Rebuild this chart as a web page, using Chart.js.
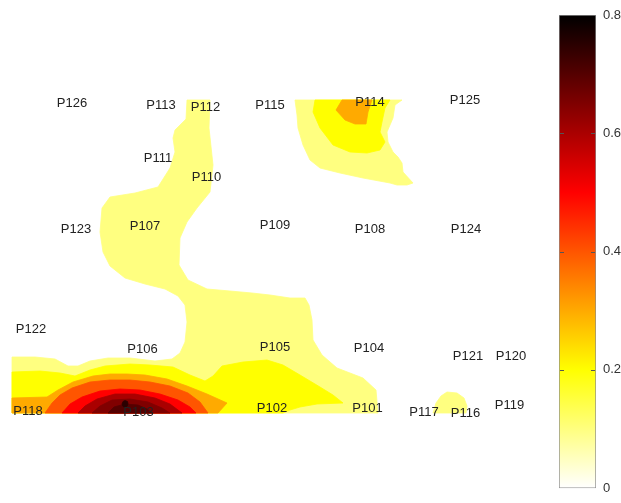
<!DOCTYPE html>
<html>
<head>
<meta charset="utf-8">
<script src="https://cdn.jsdelivr.net/npm/chart.js@4/dist/chart.umd.min.js"></script>
<style>
  html, body { margin: 0; padding: 0; background: #fff; }
  #wrap { position: relative; width: 621px; height: 503px; }
  #map { position: absolute; left: 0; top: 0; }
  #bar { position: absolute; left: 540px; top: 0; }
</style>
</head>
<body>
<div id="wrap">
  <canvas id="map" width="550" height="503"></canvas>
  <canvas id="bar" width="81" height="503"></canvas>
</div>
<script>
// Sensor positions on the floor plan (plan units)
const sensorNames = ['P126','P113','P112','P115','P114','P125','P111','P110','P123','P107','P109','P108','P124',
                     'P122','P106','P105','P104','P121','P120','P118','P103','P102','P101','P117','P116','P119'];
const sensorX = [6.0, 14.9, 19.35, 25.8, 35.8, 45.3, 14.6, 19.45, 6.4, 13.3, 26.3, 35.8, 45.4,
                 1.9, 13.05, 26.3, 35.7, 45.6, 49.9, 1.6, 12.65, 26.0, 35.55, 41.2, 45.35, 49.75];
const sensorY = [31.0, 30.75, 30.6, 30.8, 31.1, 31.3, 25.45, 23.55, 18.4, 18.65, 18.8, 18.4, 18.4,
                 8.4, 6.4, 6.6, 6.45, 5.65, 5.7, 0.2, 0.1, 0.45, 0.5, 0.1, 0.0, 0.75];

// Iso-band outlines of the measured level (each region is >= its level)
const band10Main = [[0,0],[0,5.6],[2.3,5.6],[4.3,5.4],[5.6,4.7],[6.6,4.7],[7.8,5.2],[9.6,5.5],[11.8,5.5],
  [14.3,5.2],[16.0,5.4],[16.8,6.0],[17.3,7.1],[17.5,9.1],[17.3,10.8],[16.6,11.7],[15.3,12.4],[13.3,12.9],
  [11.3,13.5],[9.8,14.7],[9.1,16.1],[8.8,18.1],[9.0,20.5],[9.8,21.6],[12.3,22.0],[14.6,22.6],[15.8,24.5],
  [16.3,26.1],[16.1,27.5],[16.3,28.3],[17.4,29.4],[17.5,31.3],[19.8,31.3],[19.7,28.5],[20.1,24.8],[19.8,22.1],
  [18.5,20.5],[17.5,19.1],[16.8,17.5],[16.7,14.8],[17.6,13.3],[19.5,12.4],[21.8,12.2],[24.0,12.0],[25.8,11.8],
  [27.8,11.5],[29.3,11.5],[29.7,10.8],[30.0,9.3],[30.1,7.3],[31.0,5.8],[32.5,4.5],[35.1,3.5],[36.4,2.3],[36.6,0]];
const band10North = [[28.3,31.3],[39.0,31.3],[38.3,30.8],[38.1,29.5],[37.5,28.1],[37.6,27.1],[38.1,26.1],
  [38.6,25.6],[39.0,25.0],[39.1,24.1],[40.1,23.0],[39.5,22.8],[38.5,22.8],[37.8,23.0],[35.1,23.5],[32.8,24.0],
  [30.8,24.5],[29.8,25.3],[29.1,26.8],[28.6,28.5],[28.5,29.8]];
const band10East = [[42.1,0],[42.4,1.0],[42.9,1.7],[43.5,2.1],[44.5,2.0],[45.2,1.5],[45.5,0.7],[45.4,0]];
const band20Main = [[0,0],[0,4.1],[2.8,4.2],[4.8,4.0],[6.3,3.7],[7.8,4.3],[9.3,4.7],[11.8,4.9],[13.8,4.8],
  [16.1,4.6],[17.8,3.8],[19.3,3.2],[20.1,3.7],[21.0,4.7],[23.1,5.1],[25.5,5.3],[27.1,4.8],[28.8,3.8],
  [30.8,2.6],[32.1,1.8],[33.1,1.0],[30.5,0.9],[28.8,0.6],[27.8,0.3],[27.1,0]];
const band20North = [[30.3,31.3],[37.8,31.3],[37.3,30.5],[37.0,29.1],[36.8,28.1],[37.3,27.1],[36.8,26.3],
  [35.5,26.0],[33.8,26.1],[32.1,26.8],[30.8,28.5],[30.1,30.1]];
const band30Main = [[0,0],[0,1.5],[3.5,1.6],[4.6,2.3],[6.1,3.1],[8.1,3.7],[9.8,3.9],[11.5,3.9],[13.3,3.8],
  [15.5,3.4],[17.5,2.7],[19.5,1.9],[21.5,1.0],[20.6,0]];
const band30North = [[33.0,31.3],[36.0,31.3],[35.6,30.1],[35.4,28.9],[34.3,28.9],[33.3,29.3],[32.4,30.3]];
const band40 = [[3.3,0],[4.0,1.0],[4.8,1.8],[6.0,2.5],[7.8,3.1],[9.8,3.3],[11.8,3.3],[13.8,3.1],[15.8,2.7],
  [17.6,2.0],[18.8,1.1],[19.6,0]];
const band50 = [[5.0,0],[5.8,0.9],[7.0,1.6],[8.8,2.2],[10.8,2.4],[12.8,2.3],[14.8,1.9],[16.6,1.3],[17.8,0.6],[18.4,0]];
const band60 = [[6.6,0],[7.3,0.7],[8.5,1.4],[10.3,1.9],[12.3,1.9],[14.3,1.5],[15.8,0.9],[17.0,0]];
const band65 = [[8.0,0],[8.8,0.7],[10.0,1.3],[11.8,1.4],[13.6,1.1],[15.0,0.5],[15.8,0]];
const band70 = [[9.6,0],[10.2,0.6],[11.3,0.9],[12.6,0.8],[13.5,0.4],[14.0,0]];
const band75 = [[11.0,0.9],[11.1,1.15],[11.3,1.25],[11.55,1.15],[11.6,0.9],[11.5,0.65],[11.3,0.55],[11.1,0.65]];

const bandLevels  = [0.1, 0.1, 0.1, 0.2, 0.2, 0.3, 0.3, 0.4, 0.5, 0.6, 0.65, 0.7, 0.75];
const bandOutlines = [band10Main, band10North, band10East, band20Main, band20North, band30Main, band30North,
                      band40, band50, band60, band65, band70, band75];

// Colour scale limits and colorbar ticks
const scaleMin = 0, scaleMax = 0.8;
const colorbarTicks = [0, 0.2, 0.4, 0.6, 0.8];

// Reversed "hot" map: white -> yellow -> red -> black
const heatStops = [[0, [255,255,255]], [0.25, [255,255,0]], [0.625, [255,0,0]], [1, [0,0,0]]];
function heatColor(v) {
  const t = Math.min(1, Math.max(0, (v - scaleMin) / (scaleMax - scaleMin)));
  for (let i = 1; i < heatStops.length; i++) {
    const [t1, c1] = heatStops[i];
    const [t0, c0] = heatStops[i - 1];
    if (t <= t1) {
      const f = (t - t0) / (t1 - t0);
      const c = c0.map((a, k) => Math.round(a + (c1[k] - a) * f));
      return `rgb(${c[0]},${c[1]},${c[2]})`;
    }
  }
  return 'rgb(0,0,0)';
}

const FONT = '"Liberation Sans", Arial, Helvetica, sans-serif';

// Fills each outline through the points that Chart.js placed on its scales
const polygonFill = {
  id: 'polygonFill',
  beforeDatasetDraw(chart, args) {
    const ds = chart.data.datasets[args.index];
    const pts = args.meta.data;
    if (!pts.length) return;
    const ctx = chart.ctx;
    ctx.save();
    ctx.beginPath();
    pts.forEach((p, i) => (i ? ctx.lineTo(p.x, p.y) : ctx.moveTo(p.x, p.y)));
    ctx.closePath();
    ctx.fillStyle = ds.bandColor;
    ctx.strokeStyle = ds.bandColor;
    ctx.lineWidth = 0.8;
    ctx.lineJoin = 'round';
    ctx.fill();
    ctx.stroke();
    ctx.restore();
  }
};

const sensorLabels = {
  id: 'sensorLabels',
  afterDatasetsDraw(chart) {
    const {ctx, scales: {x, y}} = chart;
    ctx.save();
    ctx.font = '13px ' + FONT;
    ctx.fillStyle = '#222';
    ctx.textAlign = 'center';
    ctx.textBaseline = 'middle';
    sensorNames.forEach((name, i) => {
      ctx.fillText(name, x.getPixelForValue(sensorX[i]), y.getPixelForValue(sensorY[i]));
    });
    ctx.restore();
  }
};

new Chart(document.getElementById('map'), {
  type: 'scatter',
  data: {
    datasets: bandOutlines.map((outline, i) => ({
      data: outline.map(([px, py]) => ({x: px, y: py})),
      bandColor: heatColor(bandLevels[i]),
      order: bandOutlines.length - i,
      pointRadius: 0,
      pointHoverRadius: 0,
      showLine: false
    }))
  },
  options: {
    responsive: false,
    animation: false,
    devicePixelRatio: 1,
    events: [],
    layout: {padding: {left: 12, right: 8, top: 13, bottom: 90}},
    scales: {
      x: {type: 'linear', display: false, min: 0, max: 53},
      y: {type: 'linear', display: false, min: 0, max: 40}
    },
    plugins: {legend: {display: false}, tooltip: {enabled: false}}
  },
  plugins: [polygonFill, sensorLabels]
});

// Colorbar: one bar spanning the scale, painted with the colour map
const innerTicks = {
  id: 'innerTicks',
  afterDatasetsDraw(chart) {
    const {ctx, chartArea: a, scales: {y}} = chart;
    ctx.save();
    ctx.strokeStyle = '#555';
    ctx.lineWidth = 1;
    colorbarTicks.slice(1, -1).forEach(v => {
      const py = Math.round(y.getPixelForValue(v)) + 0.5;
      ctx.beginPath();
      ctx.moveTo(a.left + 1, py); ctx.lineTo(a.left + 5, py);
      ctx.moveTo(a.right - 1, py); ctx.lineTo(a.right - 5, py);
      ctx.stroke();
    });
    ctx.restore();
  }
};

new Chart(document.getElementById('bar'), {
  type: 'bar',
  data: {
    labels: [''],
    datasets: [{
      data: [scaleMax],
      backgroundColor(c) {
        const chart = c.chart;
        const y = chart.scales.y;
        if (!chart.chartArea || !y) return '#fff';
        const g = chart.ctx.createLinearGradient(0, y.getPixelForValue(scaleMin), 0, y.getPixelForValue(scaleMax));
        heatStops.forEach(([t, col]) => g.addColorStop(t, `rgb(${col[0]},${col[1]},${col[2]})`));
        return g;
      },
      borderColor: '#8a8a8a',
      borderWidth: 1,
      borderSkipped: false,
      barPercentage: 1,
      categoryPercentage: 1
    }]
  },
  options: {
    responsive: false,
    animation: false,
    devicePixelRatio: 1,
    events: [],
    layout: {padding: {left: 19, right: 0, top: 15, bottom: 8}},
    scales: {
      x: {display: false},
      y: {
        position: 'right',
        min: scaleMin,
        max: scaleMax,
        afterBuildTicks(s) { s.ticks = colorbarTicks.map(v => ({value: v})); },
        afterFit(s) { s.width = 25; },
        grid: {display: false, drawTicks: false},
        border: {display: false},
        ticks: {padding: 7, color: '#333', font: {family: FONT, size: 13}}
      }
    },
    plugins: {legend: {display: false}, tooltip: {enabled: false}}
  },
  plugins: [innerTicks]
});
</script>
</body>
</html>
